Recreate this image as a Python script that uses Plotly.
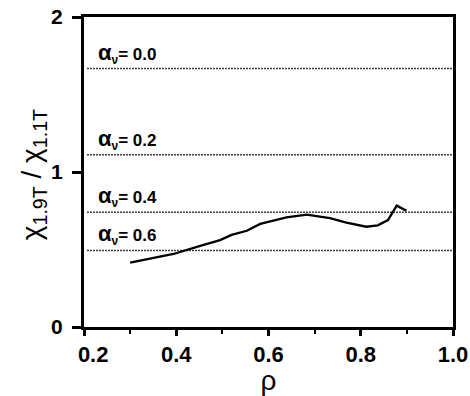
import plotly.graph_objects as go

# curve data
rho = [0.300, 0.337, 0.394, 0.452, 0.495, 0.520, 0.553, 0.582, 0.618, 0.639,
       0.683, 0.733, 0.769, 0.812, 0.837, 0.859, 0.878, 0.899]
ratio = [0.415, 0.437, 0.471, 0.523, 0.561, 0.594, 0.621, 0.665, 0.690, 0.707,
         0.725, 0.703, 0.673, 0.647, 0.656, 0.690, 0.783, 0.750]

# reference lines
alpha_labels = ["0.0", "0.2", "0.4", "0.6"]
alpha_levels = [1.667, 1.111, 0.741, 0.494]

# tick labels
x_ticks = [0.2, 0.4, 0.6, 0.8, 1.0]
x_ticklabels = ["\u00a0\u00a0\u00a00.2", "0.4", "0.6", "0.8", "1.0"]
y_ticks = [0, 1, 2]
y_ticklabels = ["0", "1", "2"]

FONT = "Liberation Sans, Arial, sans-serif"

fig = go.Figure()

for lvl in alpha_levels:
    fig.add_trace(go.Scatter(x=[0.207, 1.0], y=[lvl, lvl], mode="lines",
                             line=dict(color="black", width=1.5, dash="1.5px,1.5px"),
                             showlegend=False, hoverinfo="skip"))

fig.add_trace(go.Scatter(x=rho, y=ratio, mode="lines",
                         line=dict(color="black", width=2.3),
                         showlegend=False))

for lab, lvl in zip(alpha_labels, alpha_levels):
    fig.add_annotation(x=0.226, y=lvl, xref="x", yref="y",
                       text="<b><span style='font-size:22px'>α</span><sub>ν</sub>= " + lab + "</b>",
                       showarrow=False, xanchor="left", yanchor="bottom",
                       yshift=0, font=dict(family=FONT, size=17, color="black"))

# y axis title as rotated annotation
fig.add_annotation(x=-0.138, y=0.49, xref="paper", yref="paper",
                   text="χ<sub>1.9T</sub> / χ<sub>1.1T</sub>", textangle=-90,
                   showarrow=False, xanchor="center", yanchor="middle",
                   font=dict(family=FONT, size=28, color="black"))

fig.update_layout(
    width=470, height=396,
    margin=dict(l=84, r=17, t=17, b=69),
    paper_bgcolor="white", plot_bgcolor="white",
    font=dict(family=FONT, color="black"),
)

fig.update_xaxes(
    range=[0.2, 1.0], tickvals=x_ticks,
    ticktext=["<b>" + t + "</b>" for t in x_ticklabels],
    ticks="outside", ticklen=6, tickwidth=2.5, tickcolor="black",
    minor=dict(tickvals=[0.3, 0.5, 0.7, 0.9], ticks="outside", ticklen=4,
               tickwidth=2, tickcolor="black"),
    showline=True, linewidth=3, linecolor="black", mirror=True,
    showgrid=False, zeroline=False, automargin=False,
    tickfont=dict(family=FONT, size=22, color="black"),
    title=dict(text="ρ", font=dict(family=FONT, size=28, color="black")),
)

fig.update_yaxes(
    range=[0, 2], tickvals=y_ticks,
    ticktext=["<b>" + t + "</b>" for t in y_ticklabels],
    ticks="outside", ticklen=9, tickwidth=2.5, tickcolor="black",
    ticklabelstandoff=5,
    showline=True, linewidth=3, linecolor="black", mirror=True,
    showgrid=False, zeroline=False, automargin=False,
    tickfont=dict(family=FONT, size=21, color="black"),
)

fig.write_html("out.html")
